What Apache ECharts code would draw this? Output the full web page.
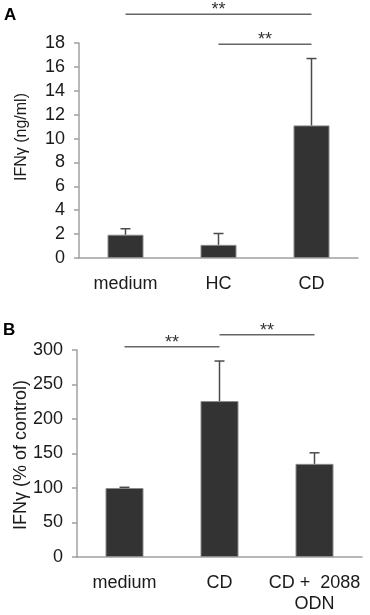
<!DOCTYPE html>
<html>
<head>
<meta charset="utf-8">
<script src="https://cdn.jsdelivr.net/npm/echarts@6/dist/echarts.min.js"></script>
<style>
  html, body { margin: 0; padding: 0; background: #fff; }
  #chart { width: 370px; height: 615px; }
</style>
</head>
<body>
<div id="chart"></div>
<script>
// panel A
const catsA = ['medium', 'HC', 'CD'];
const meanA = [1.95, 1.1, 11.1];
const errA = [0.5, 0.95, 5.6];
// significance brackets: [from, to, height in data units]
const sigA = [[0, 2, 20.4], [1, 2, 17.9]];

// panel B
const catsB = ['medium', 'CD', 'CD +  2088\nODN'];
const meanB = [100, 226, 135];
const errB = [1, 58, 16];
const sigB = [[0, 1, 304.6], [1, 2, 322]];

const font = '"Liberation Sans", Arial, sans-serif';
const axisGray = '#a0a0a0';

function errorRender(params, api) {
  const top = api.coord([api.value(0), api.value(1) + api.value(2)]);
  const base = api.coord([api.value(0), api.value(1)]);
  return {
    type: 'group',
    children: [
      { type: 'line', shape: { x1: base[0], y1: base[1], x2: top[0], y2: top[1] },
        style: { stroke: '#4a4a4a', lineWidth: 1.5 } },
      { type: 'line', shape: { x1: top[0] - 5, y1: top[1], x2: top[0] + 5, y2: top[1] },
        style: { stroke: '#4a4a4a', lineWidth: 1.5 } }
    ]
  };
}

function sigRender(params, api) {
  const a = api.coord([api.value(0), api.value(2)]);
  const b = api.coord([api.value(1), api.value(2)]);
  return {
    type: 'group',
    children: [
      { type: 'line', shape: { x1: a[0], y1: a[1], x2: b[0], y2: b[1] },
        style: { stroke: '#666', lineWidth: 1.5 } },
      { type: 'text', x: (a[0] + b[0]) / 2, y: a[1] - 13,
        style: { text: '**', font: '18px ' + font, fill: '#333',
                 align: 'center', verticalAlign: 'top' } }
    ]
  };
}

function xAxis(idx, cats) {
  return {
    type: 'category', gridIndex: idx, data: cats,
    axisLine: { lineStyle: { color: axisGray, width: 1.5 } },
    axisTick: { length: 5, lineStyle: { color: axisGray, width: 1.5 } },
    axisLabel: { interval: 0, color: '#1a1a1a', fontSize: 18, fontFamily: font, margin: 16, lineHeight: 21 }
  };
}

function yAxis(idx, max, interval) {
  return {
    type: 'value', gridIndex: idx, min: 0, max: max, interval: interval,
    axisLine: { show: true, lineStyle: { color: axisGray, width: 1.5 } },
    axisTick: { show: true, length: 5, lineStyle: { color: axisGray, width: 1.5 } },
    splitLine: { show: false },
    axisLabel: { color: '#1a1a1a', fontSize: 18, fontFamily: font, margin: 14 }
  };
}

function yName(text, x, y, size) {
  return { type: 'text', x: x, y: y, rotation: Math.PI / 2,
    style: { text: text, font: size + 'px ' + font, fill: '#1a1a1a',
             align: 'center', verticalAlign: 'middle' } };
}

const chart = echarts.init(document.getElementById('chart'), null, { renderer: 'canvas' });
chart.setOption({
  animation: false,
  backgroundColor: '#fff',
  grid: [
    { left: 79, right: 12, top: 43, bottom: 357 },
    { left: 77, right: 8, top: 350, bottom: 51 }
  ],
  xAxis: [xAxis(0, catsA), xAxis(1, catsB)],
  yAxis: [yAxis(0, 18, 2), yAxis(1, 300, 50)],
  graphic: [
    { type: 'text', left: 4, top: 7, style: { text: 'A', font: 'bold 17px ' + font, fill: '#000' } },
    { type: 'text', left: 3, top: 322, style: { text: 'B', font: 'bold 17px ' + font, fill: '#000' } },
    yName('IFNγ (ng/ml)', 22, 137, 16),
    yName('IFNγ (% of control)', 21, 455, 18)
  ],
  series: [
    { type: 'bar', xAxisIndex: 0, yAxisIndex: 0, data: meanA, barWidth: 36,
      itemStyle: { color: '#333', borderColor: '#8a8a8a', borderWidth: 1 } },
    { type: 'custom', xAxisIndex: 0, yAxisIndex: 0, renderItem: errorRender, clip: false,
      data: meanA.map((v, i) => [i, v, errA[i]]), z: 3 },
    { type: 'custom', xAxisIndex: 0, yAxisIndex: 0, renderItem: sigRender, clip: false,
      data: sigA },
    { type: 'bar', xAxisIndex: 1, yAxisIndex: 1, data: meanB, barWidth: 38,
      itemStyle: { color: '#333', borderColor: '#8a8a8a', borderWidth: 1 } },
    { type: 'custom', xAxisIndex: 1, yAxisIndex: 1, renderItem: errorRender, clip: false,
      data: meanB.map((v, i) => [i, v, errB[i]]), z: 3 },
    { type: 'custom', xAxisIndex: 1, yAxisIndex: 1, renderItem: sigRender, clip: false,
      data: sigB }
  ]
});
</script>
</body>
</html>
